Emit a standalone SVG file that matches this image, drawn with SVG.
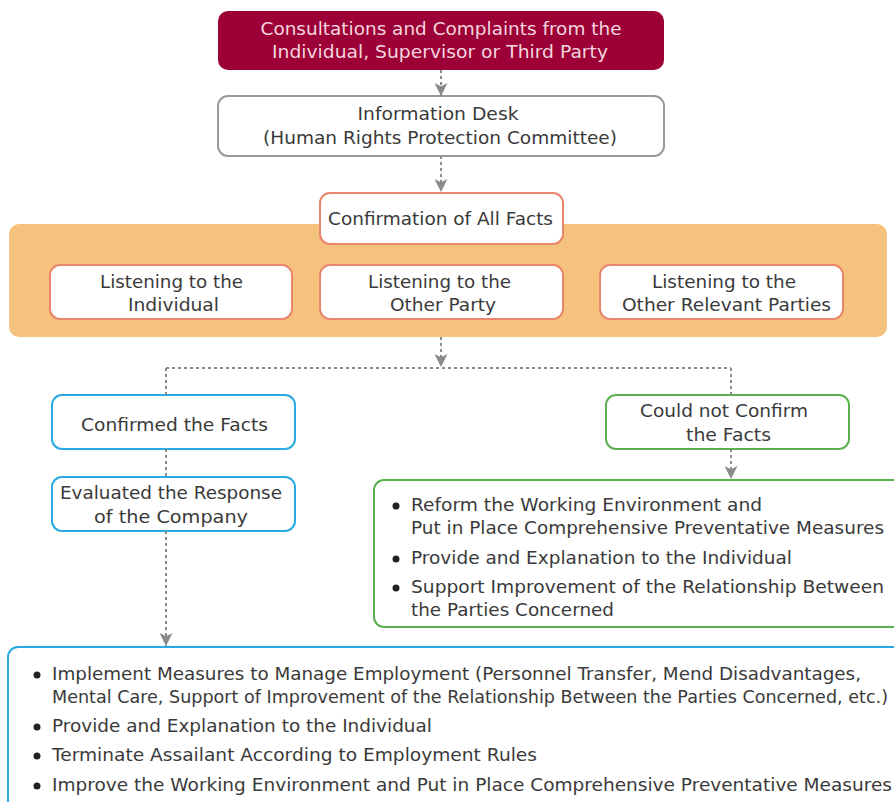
<svg xmlns="http://www.w3.org/2000/svg" width="894" height="802" viewBox="0 0 894 802">
<style>
text{font-family:"DejaVu Sans","Verdana",sans-serif;font-size:17px;fill:#3a3a3a}
.c{text-anchor:middle}
.box{stroke-width:2}
.gray{fill:#fff;stroke:#9a9a9a}
.sal{fill:#fff;stroke:#ea846c}
.blue{fill:#fff;stroke:#2aaae2}
.green{fill:#fff;stroke:#5bb14f}
.con{fill:none;stroke:#8a8a8a;stroke-width:2;stroke-dasharray:3 3}
.dot{fill:#222}
</style>
<defs>
<marker id="ah" viewBox="0 0 12 12" refX="12" refY="6" markerWidth="13" markerHeight="13" markerUnits="userSpaceOnUse" orient="auto">
<path d="M0,0 L12,6 L0,12 L3,6 z" fill="#8a8a8a"/>
</marker>
</defs>
<rect x="9" y="224" width="878" height="113" rx="10" fill="#f5c27e"/>
<g id="n-top"><rect x="218" y="11" width="446" height="59" rx="10" fill="#9c0036"/>
<text class="c" x="441" y="35" style="fill:#f3d6df" textLength="361" lengthAdjust="spacingAndGlyphs">Consultations and Complaints from the</text>
<text class="c" x="440" y="58" style="fill:#f3d6df" textLength="336" lengthAdjust="spacingAndGlyphs">Individual, Supervisor or Third Party</text></g>
<g id="n-desk"><rect class="box gray" x="218" y="96" width="446" height="60" rx="10"/>
<text class="c" x="438" y="120" textLength="161" lengthAdjust="spacingAndGlyphs">Information Desk</text>
<text class="c" x="440" y="144" textLength="354" lengthAdjust="spacingAndGlyphs">(Human Rights Protection Committee)</text></g>
<g id="n-confirm"><rect class="box sal" x="320" y="193" width="243" height="51" rx="10"/>
<text class="c" x="440.5" y="225" textLength="225" lengthAdjust="spacingAndGlyphs">Confirmation of All Facts</text></g>
<g id="n-ind"><rect class="box sal" x="50" y="265" width="242" height="54" rx="10"/>
<text class="c" x="171.5" y="288" textLength="143" lengthAdjust="spacingAndGlyphs">Listening to the</text>
<text class="c" x="173.5" y="311" textLength="91" lengthAdjust="spacingAndGlyphs">Individual</text></g>
<g id="n-other"><rect class="box sal" x="320" y="265" width="243" height="54" rx="10"/>
<text class="c" x="439.5" y="288" textLength="143" lengthAdjust="spacingAndGlyphs">Listening to the</text>
<text class="c" x="443" y="311" textLength="106" lengthAdjust="spacingAndGlyphs">Other Party</text></g>
<g id="n-rel"><rect class="box sal" x="600" y="265" width="243" height="54" rx="10"/>
<text class="c" x="724" y="288" textLength="144" lengthAdjust="spacingAndGlyphs">Listening to the</text>
<text class="c" x="726.5" y="311" textLength="209" lengthAdjust="spacingAndGlyphs">Other Relevant Parties</text></g>
<g id="n-confirmed"><rect class="box blue" x="52" y="395" width="243" height="54" rx="10"/>
<text class="c" x="174.5" y="431" textLength="187" lengthAdjust="spacingAndGlyphs">Confirmed the Facts</text></g>
<g id="n-notconf"><rect class="box green" x="606" y="395" width="243" height="54" rx="10"/>
<text class="c" x="724" y="417" textLength="168" lengthAdjust="spacingAndGlyphs">Could not Confirm</text>
<text class="c" x="728.5" y="441" textLength="85" lengthAdjust="spacingAndGlyphs">the Facts</text></g>
<g id="n-eval"><rect class="box blue" x="52" y="477" width="243" height="54" rx="10"/>
<text class="c" x="171" y="499" textLength="222" lengthAdjust="spacingAndGlyphs">Evaluated the Response</text>
<text class="c" x="171" y="523" textLength="154" lengthAdjust="spacingAndGlyphs">of the Company</text></g>
<g id="n-greenlist"><rect class="box green" x="374" y="480" width="540" height="147" rx="10"/>
<circle class="dot" cx="396" cy="506" r="3.5"/>
<text x="411" y="511" textLength="351" lengthAdjust="spacingAndGlyphs">Reform the Working Environment and</text>
<text x="411" y="534" textLength="473" lengthAdjust="spacingAndGlyphs">Put in Place Comprehensive Preventative Measures</text>
<circle class="dot" cx="396" cy="559" r="3.5"/>
<text x="411" y="564" textLength="381" lengthAdjust="spacingAndGlyphs">Provide and Explanation to the Individual</text>
<circle class="dot" cx="396" cy="588" r="3.5"/>
<text x="411" y="593" textLength="473" lengthAdjust="spacingAndGlyphs">Support Improvement of the Relationship Between</text>
<text x="411" y="616" textLength="203" lengthAdjust="spacingAndGlyphs">the Parties Concerned</text></g>
<g id="n-bluelist"><rect class="box blue" x="8" y="647" width="906" height="170" rx="10"/>
<circle class="dot" cx="37" cy="675" r="3.5"/>
<text x="52" y="680" textLength="809" lengthAdjust="spacingAndGlyphs">Implement Measures to Manage Employment (Personnel Transfer, Mend Disadvantages,</text>
<text x="52" y="703" textLength="836" lengthAdjust="spacingAndGlyphs">Mental Care, Support of Improvement of the Relationship Between the Parties Concerned, etc.)</text>
<circle class="dot" cx="37" cy="727" r="3.5"/>
<text x="52" y="732" textLength="380" lengthAdjust="spacingAndGlyphs">Provide and Explanation to the Individual</text>
<circle class="dot" cx="37" cy="756" r="3.5"/>
<text x="52" y="761" textLength="485" lengthAdjust="spacingAndGlyphs">Terminate Assailant According to Employment Rules</text>
<circle class="dot" cx="37" cy="786" r="3.5"/>
<text x="52" y="791" textLength="840" lengthAdjust="spacingAndGlyphs">Improve the Working Environment and Put in Place Comprehensive Preventative Measures</text></g>
<g id="connectors">
<path class="con" d="M441,70 V96" marker-end="url(#ah)"/>
<path class="con" d="M441,156 V192" marker-end="url(#ah)"/>
<path class="con" d="M441,337 V367" marker-end="url(#ah)"/>
<path class="con" d="M166,368 H731"/>
<path class="con" d="M166,368 V395"/>
<path class="con" d="M731,368 V395"/>
<path class="con" d="M166,449 V477"/>
<path class="con" d="M731,449 V479" marker-end="url(#ah)"/>
<path class="con" d="M166,531 V646" marker-end="url(#ah)"/>
</g>
</svg>
